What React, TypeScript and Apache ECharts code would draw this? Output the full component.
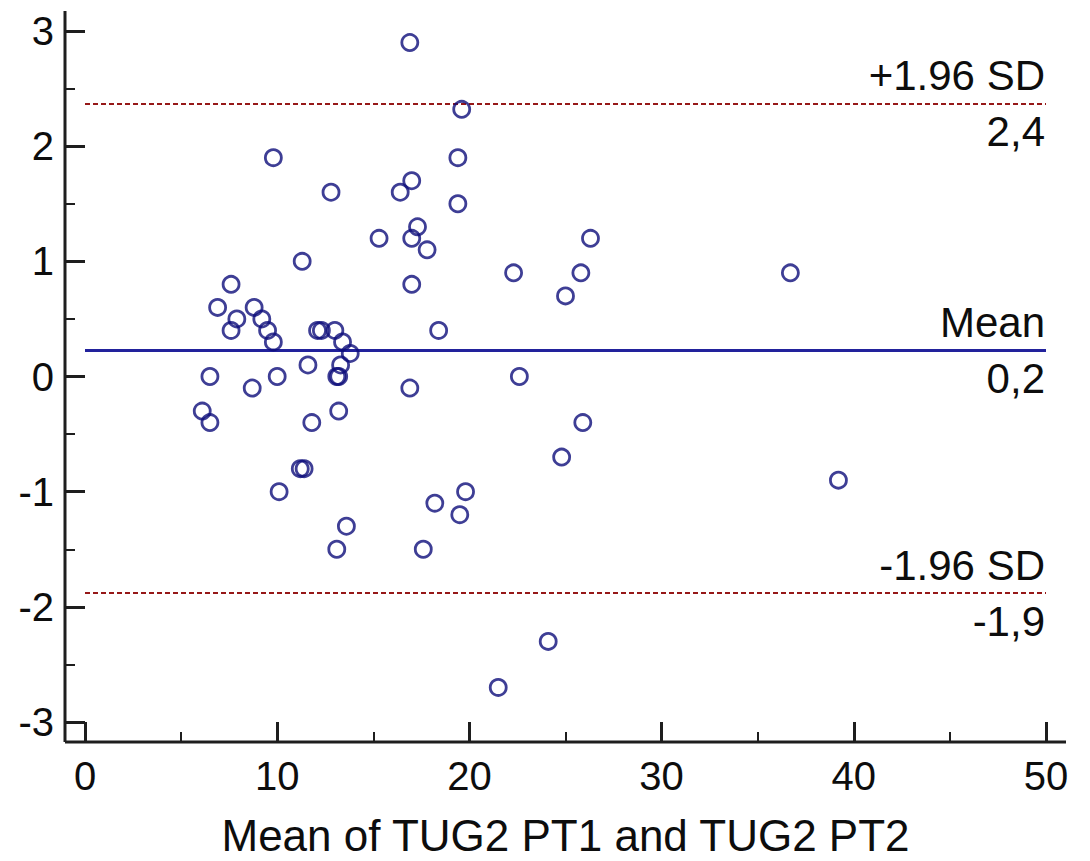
import React, { useEffect, useRef } from "react";
import * as echarts from "echarts";

// Bland-Altman data: mean of the two measurements (x) and their difference (y)
const meanValues: number[] = [
  16.9, 19.6, 9.8, 12.8, 16.4, 17.0, 19.4, 19.4, 15.3, 17.0,
  17.3, 17.8, 26.3, 11.3, 22.3, 25.8, 36.7, 17.0, 25.0, 22.6,
  25.9, 24.8, 39.2, 24.1, 21.5, 7.6, 6.9, 8.8, 7.9, 7.6,
  9.2, 9.5, 9.8, 12.1, 12.3, 13.0, 13.4, 13.8, 11.6, 13.3,
  13.2, 13.1, 6.5, 10.0, 8.7, 6.1, 6.5, 11.8, 13.2, 16.9,
  11.2, 11.4, 10.1, 13.6, 13.1, 18.2, 19.8, 19.5, 17.6, 18.4,
];
const diffValues: number[] = [
  2.9, 2.32, 1.9, 1.6, 1.6, 1.7, 1.9, 1.5, 1.2, 1.2,
  1.3, 1.1, 1.2, 1.0, 0.9, 0.9, 0.9, 0.8, 0.7, 0.0,
  -0.4, -0.7, -0.9, -2.3, -2.7, 0.8, 0.6, 0.6, 0.5, 0.4,
  0.5, 0.4, 0.3, 0.4, 0.4, 0.4, 0.3, 0.2, 0.1, 0.1,
  0.0, 0.0, 0.0, 0.0, -0.1, -0.3, -0.4, -0.4, -0.3, -0.1,
  -0.8, -0.8, -1.0, -1.3, -1.5, -1.1, -1.0, -1.2, -1.5, 0.4,
];

const meanDiff = 0.23;
const upperLoA = 2.37;
const lowerLoA = -1.875;
const meanLabels = ["Mean", "0,2"];
const upperLabels = ["+1.96 SD", "2,4"];
const lowerLabels = ["-1.96 SD", "-1,9"];

const xTitle = "Mean of TUG2 PT1 and TUG2 PT2";
const xMin = 0, xMax = 50, xStep = 10;
const yMin = -3, yMax = 3, yStep = 1;

const FONT = "'Liberation Sans', Arial, sans-serif";
const AXIS_COLOR = "#1e1e1e";
const TEXT_COLOR = "#0d0d0d";
const OFFSET = 20;

export default function App() {
  const ref = useRef<HTMLDivElement>(null);

  useEffect(() => {
    if (!ref.current) return;
    const chart = echarts.init(ref.current, undefined, { renderer: "svg" });

    const lineLabel = (text: string, pos: string) => ({
      show: true,
      formatter: text,
      position: pos,
      distance: [1, 7],
      color: TEXT_COLOR,
      fontSize: 42,
      fontFamily: FONT,
    });

    const mkLine = (y: number, labels: string[], style: any) => [
      { yAxis: y, lineStyle: style, label: lineLabel(labels[0], "insideEndTop") },
      { yAxis: y, lineStyle: style, label: lineLabel(labels[1], "insideEndBottom") },
    ];

    const dashed = { color: "#961818", width: 1.8, type: [5, 3] };
    const solid = { color: "#22229c", width: 3.2, type: "solid" };

    const axisCommon = {
      type: "value",
      offset: OFFSET,
      axisLine: { show: false, onZero: false },
      axisTick: { show: true, inside: true, length: 20, lineStyle: { color: AXIS_COLOR, width: 3 } },
      minorTick: { show: true, splitNumber: 2, length: 10, lineStyle: { color: AXIS_COLOR, width: 2 } },
      splitLine: { show: false },
      minorSplitLine: { show: false },
    };

    chart.setOption({
      animation: false,
      backgroundColor: "#ffffff",
      grid: {
        left: 85,
        right: 44,
        top: 31,
        bottom: 139,
        containLabel: false,
        outerBoundsMode: "none",
      },
      xAxis: {
        ...axisCommon,
        min: xMin,
        max: xMax,
        interval: xStep,
        axisLabel: { color: TEXT_COLOR, fontSize: 40, fontFamily: FONT, margin: 14 },
        name: xTitle,
        nameLocation: "middle",
        nameGap: 71,
        nameTextStyle: { color: TEXT_COLOR, fontSize: 44, fontFamily: FONT },
      },
      yAxis: {
        ...axisCommon,
        min: yMin,
        max: yMax,
        interval: yStep,
        axisLabel: { color: TEXT_COLOR, fontSize: 40, fontFamily: FONT, margin: 11 },
      },
      series: [
        {
          type: "scatter",
          data: meanValues.map((x, i) => [x, diffValues[i]]),
          symbol: "circle",
          symbolSize: 16,
          itemStyle: {
            color: "rgba(255,255,255,0)",
            borderColor: "#0e0e7a",
            borderWidth: 2.8,
          },
          z: 5,
          markLine: {
            silent: true,
            symbol: ["none", "none"],
            data: [
              ...mkLine(upperLoA, upperLabels, dashed),
              ...mkLine(meanDiff, meanLabels, solid),
              ...mkLine(lowerLoA, lowerLabels, dashed),
            ],
          },
        },
      ],
    });

    const p0 = chart.convertToPixel({ gridIndex: 0 }, [xMin, yMin]) as number[];
    const p1 = chart.convertToPixel({ gridIndex: 0 }, [xMax, yMax]) as number[];
    const ax = p0[0] - OFFSET;
    const ay = p0[1] + OFFSET;
    chart.setOption({
      graphic: [
        {
          type: "line",
          shape: { x1: ax, y1: p1[1] - 20, x2: ax, y2: ay },
          style: { stroke: AXIS_COLOR, lineWidth: 3 },
          z: 10,
        },
        {
          type: "line",
          shape: { x1: ax, y1: ay, x2: p1[0] + 20, y2: ay },
          style: { stroke: AXIS_COLOR, lineWidth: 3 },
          z: 10,
        },
      ],
    });

    return () => chart.dispose();
  }, []);

  return (
    <div
      ref={ref}
      style={{ position: "absolute", left: 0, top: 0, width: 1090, height: 861, background: "#fff" }}
    />
  );
}
